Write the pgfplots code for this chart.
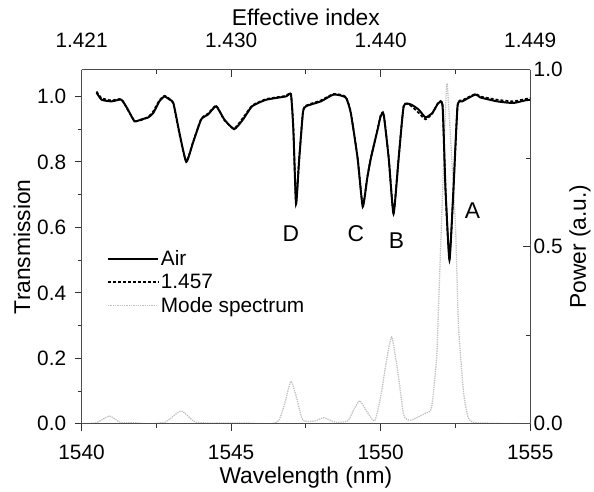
\documentclass[border=0pt]{standalone}
\usepackage{fontspec}
\setmainfont{Liberation Sans}
\usepackage{pgfplots}
\pgfplotsset{compat=1.18}

\pgfplotstableread{
x y
1540.0 0.000
1540.5 0.003
1540.93 0.022
1541.3 0.004
1541.8 0.003
1542.2 0.000
1542.8 0.005
1543.33 0.036
1543.8 0.005
1544.5 0.002
1545.5 0.002
1546.3 0.000
1546.6 0.010
1546.8 0.060
1547.0 0.120
1547.2 0.070
1547.4 0.010
1547.8 0.008
1548.1 0.017
1548.5 0.004
1548.9 0.008
1549.1 0.040
1549.3 0.065
1549.5 0.040
1549.8 0.008
1550.03 0.090
1550.17 0.166
1550.37 0.245
1550.6 0.130
1550.77 0.025
1551.0 0.010
1551.5 0.030
1551.7 0.045
1551.87 0.185
1551.93 0.320
1552.03 0.560
1552.2 0.950
1552.27 0.900
1552.5 0.560
1552.6 0.280
1552.77 0.090
1552.93 0.017
1553.2 0.003
1555.0 0.000
}\modetable

\pgfplotstableread{
x y
1540.5 1.012
1540.67 0.990
1541.0 0.985
1541.33 0.990
1541.55 0.960
1541.77 0.924
1542.0 0.930
1542.23 0.936
1542.4 0.950
1542.6 0.985
1542.77 1.000
1542.95 0.990
1543.07 0.980
1543.27 0.890
1543.5 0.800
1543.73 0.860
1544.0 0.930
1544.23 0.945
1544.5 0.970
1544.77 0.930
1545.1 0.900
1545.4 0.930
1545.7 0.970
1546.17 0.990
1546.83 1.000
1547.0 1.006
1547.08 0.900
1547.17 0.672
1547.27 0.800
1547.4 0.950
1547.5 0.970
1548.0 0.985
1548.43 1.006
1548.83 0.997
1549.0 0.950
1549.23 0.810
1549.4 0.663
1549.55 0.750
1549.67 0.810
1549.9 0.900
1550.0 0.940
1550.1 0.945
1550.27 0.810
1550.43 0.641
1550.6 0.810
1550.77 0.970
1551.0 0.976
1551.27 0.960
1551.5 0.936
1551.73 0.950
1551.93 0.980
1552.07 0.970
1552.17 0.710
1552.3 0.500
1552.43 0.710
1552.57 0.970
1552.73 0.985
1553.17 1.006
1553.33 0.997
1553.9 0.985
1554.43 0.980
1554.83 0.988
1555.0 0.990
}\airtable

\pgfplotstableread{
x y
1540.5 1.015
1540.67 0.995
1541.0 0.988
1541.33 0.992
1541.55 0.958
1541.77 0.926
1542.0 0.928
1542.23 0.938
1542.4 0.955
1542.6 0.988
1542.77 1.002
1542.95 0.992
1543.07 0.978
1543.27 0.885
1543.5 0.802
1543.73 0.862
1544.0 0.932
1544.23 0.948
1544.5 0.972
1544.77 0.928
1545.1 0.902
1545.4 0.935
1545.7 0.972
1546.17 0.992
1546.83 1.002
1547.0 1.008
1547.08 0.905
1547.17 0.675
1547.27 0.805
1547.4 0.952
1547.5 0.972
1548.0 0.988
1548.43 1.008
1548.83 0.999
1549.0 0.952
1549.23 0.812
1549.4 0.666
1549.55 0.752
1549.67 0.812
1549.9 0.902
1550.0 0.942
1550.1 0.948
1550.27 0.812
1550.43 0.645
1550.6 0.812
1550.77 0.972
1551.0 0.972
1551.27 0.950
1551.5 0.930
1551.73 0.948
1551.93 0.982
1552.07 0.972
1552.17 0.712
1552.3 0.505
1552.43 0.712
1552.57 0.972
1552.73 0.988
1553.17 1.008
1553.33 1.000
1553.9 0.990
1554.43 0.985
1554.83 0.992
1555.0 0.995
}\ritable

\pgfplotsset{
  every axis/.append style={
    scale only axis, width=451bp, height=356bp, at={(0,0)}, anchor=south west,
    xmin=1540, xmax=1555,
    tick style={line width=0.9pt, color=black!80},
    axis line style={-, line width=1.2pt, black!70},
    major tick length=7bp, minor tick length=4bp,
    /pgf/number format/assume math mode=true,
    tick label style={font=\fontsize{21}{24}\selectfont},
    label style={font=\fontsize{23}{26}\selectfont},
  }
}

\begin{document}
\begin{tikzpicture}
\begin{axis}[
  axis x line*=top, axis y line*=right,
  x axis line style={-}, y axis line style={-},
  ymin=0, ymax=1,
  xtick={1540,1545,1550,1555}, xticklabels={1.421,1.430,1.440,1.449},
  minor xtick={1542.5,1547.5,1552.5},
  xticklabel style={yshift=19bp},
  ytick={0,0.5,1}, yticklabels={0.0,0.5,1.0}, minor ytick={0.25,0.75},
  tick align=inside,
  xlabel={Effective index}, ylabel={Power (a.u.)},
]
\addplot[gray!50, densely dotted, line width=1.3pt, smooth, tension=0.35] table {\modetable};
\end{axis}
\begin{axis}[
  axis x line*=bottom, axis y line*=left,
  x axis line style={-}, y axis line style={-},
  ymin=0, ymax=1.082,
  xtick={1540,1545,1550,1555}, minor xtick={1542.5,1547.5,1552.5},
  xticklabel style={yshift=-11bp, /pgf/number format/1000 sep={}},
  ytick={0,0.2,0.4,0.6,0.8,1.0}, minor ytick={0.1,0.3,0.5,0.7,0.9},
  yticklabel style={xshift=-5bp, /pgf/number format/.cd, fixed, fixed zerofill, precision=1},
  tick align=outside,
  xlabel={Wavelength (nm)}, ylabel={Transmission},
  legend style={draw=none, fill=none, at={(0.05,0.50)}, anchor=north west,
    font=\fontsize{21}{24}\selectfont, row sep=3bp},
  legend cell align=left,
  legend image code/.code={\draw[#1] (0bp,0bp) -- (50bp,0bp);},
]
\addplot[black, line width=2pt, smooth, tension=0.3] table {\airtable};
\addlegendentry{Air}
\addplot[black, line width=1.7pt, densely dashed, smooth, tension=0.3] table {\ritable};
\addlegendentry{1.457}
\addlegendimage{gray!50, densely dotted, line width=1.3pt}
\addlegendentry{Mode spectrum}
\node[font=\fontsize{23}{26}\selectfont] at (axis cs:1547.0,0.58) {D};
\node[font=\fontsize{23}{26}\selectfont] at (axis cs:1549.17,0.58) {C};
\node[font=\fontsize{23}{26}\selectfont] at (axis cs:1550.53,0.56) {B};
\node[font=\fontsize{23}{26}\selectfont] at (axis cs:1553.07,0.65) {A};
\end{axis}
\path[use as bounding box] (-82bp,-65bp) rectangle (512bp,426bp);
\end{tikzpicture}
\end{document}
